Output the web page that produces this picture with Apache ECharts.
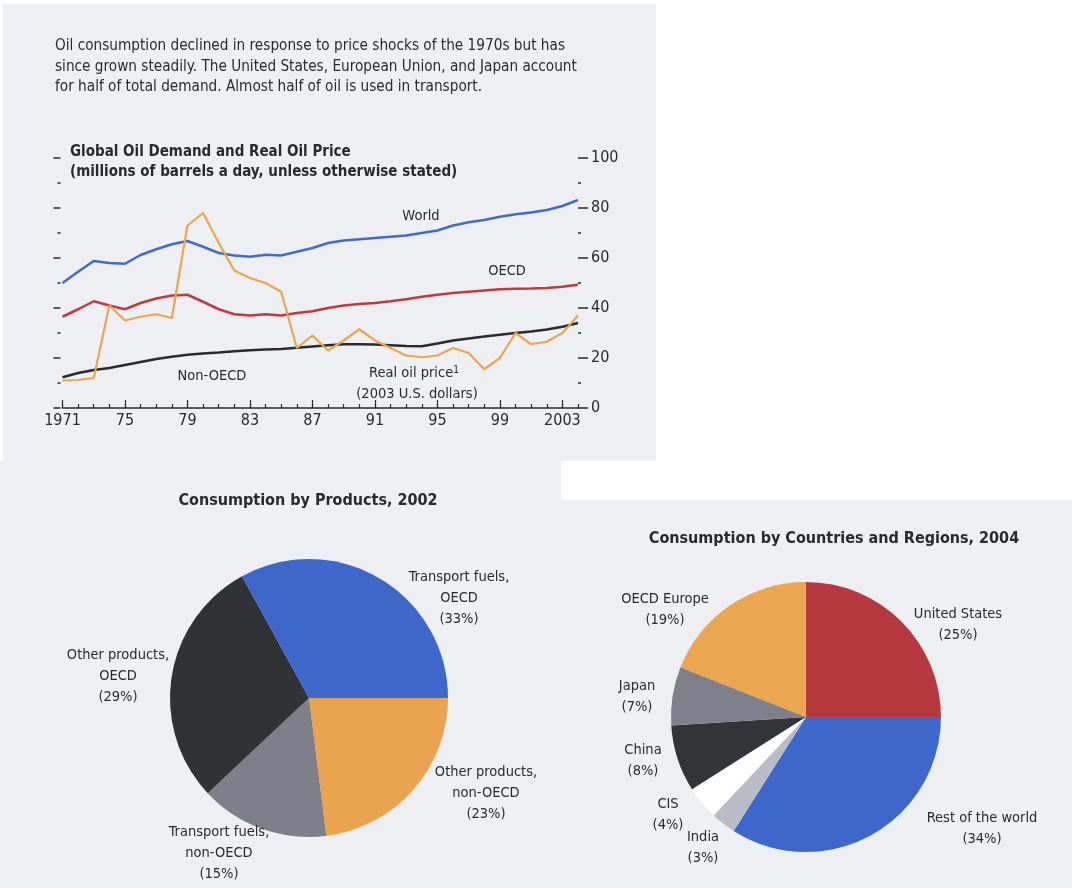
<!DOCTYPE html>
<html>
<head>
<meta charset="utf-8">
<script src="https://cdn.jsdelivr.net/npm/echarts@6/dist/echarts.min.js"></script>
<style>html,body{margin:0;padding:0;background:#fff}#c{width:1072px;height:888px}</style>
</head>
<body>
<div id="c"></div>
<script>
// ---------- DATA ----------
const years = ['1971','1972','1973','1974','1975','1976','1977','1978','1979','1980','1981','1982','1983','1984','1985','1986','1987','1988','1989','1990','1991','1992','1993','1994','1995','1996','1997','1998','1999','2000','2001','2002','2003','2004'];
const xTickLabels = ['1971','75','79','83','87','91','95','99','2003'];
const world    = [50,54.5,58.8,58,57.7,61.2,63.5,65.5,66.8,64.5,62,61,60.5,61.3,61,62.5,64,66,67,67.5,68,68.5,69,70,71,73,74.3,75.2,76.5,77.5,78.2,79.2,80.8,83.2];
const oecd     = [36.5,39.5,42.7,41,39.5,42,43.8,45,45.3,42.5,39.5,37.5,37,37.5,37,38,38.7,40,41,41.6,42,42.7,43.5,44.5,45.3,46,46.5,47,47.5,47.7,47.8,48,48.5,49.3];
const nonOecd  = [12.3,14,15.2,16,17.2,18.4,19.6,20.5,21.3,21.8,22.2,22.7,23.1,23.4,23.6,24.1,24.6,25.1,25.5,25.5,25.4,25.1,24.8,24.7,25.8,27,27.8,28.6,29.3,30,30.6,31.4,32.5,34];
const oilPrice = [11,11.2,12,41,35,36.5,37.5,36,73,78,66,55,52,50,46.5,24,29,23,27,31.5,27,24,21,20.3,21,24,22,15.5,20,30,25.5,26.5,30,37];
const yTickLabels = ['0','20','40','60','80','100'];

const productNames  = ['Other products,\nnon-OECD','Transport fuels,\nnon-OECD','Other products,\nOECD','Transport fuels,\nOECD'];
const productValues = [23,15,29,33];
const regionNames  = ['United States','Rest of the world','India','CIS','China','Japan','OECD Europe'];
const regionValues = [25,34,3,4,8,7,19];

// ---------- STYLE ----------
const FF = '"Liberation Sans Narrow","Arial Narrow","DejaVu Sans Condensed",sans-serif';
const TXT = '#2a2a2e';
const productColors = ['#eaa44f','#7d8089','#313236','#3d67cb'];
const regionColors  = ['#b5393e','#3d67cb','#b9bcc4','#ffffff','#333438','#7e8189','#eba650'];
const productLabelPos = [[486,793],[219,853],[118,676],[459,598]];
const regionLabelPos  = [[958,625],[982,829],[703,848],[668,815],[643,761],[637,697],[665,610]];

const chart = echarts.init(document.getElementById('c'), null, {renderer:'canvas'});

function txt(x, y, text, opts) {
  return {type:'text', x:x, y:y, z:50, style:Object.assign({text:text, fill:TXT, font:'15px ' + FF, verticalAlign:'middle'}, opts||{})};
}

const option = {
  backgroundColor:'#ffffff',
  animation:false,
  textStyle:{fontFamily:FF},
  title:[
    {text:'Consumption by Products, 2002', left:303, top:488, textAlign:'center',
     textStyle:{fontFamily:FF, fontWeight:'bold', fontSize:16, color:TXT}},
    {text:'Consumption by Countries and Regions, 2004', left:829, top:526, textAlign:'center',
     textStyle:{fontFamily:FF, fontWeight:'bold', fontSize:16, color:TXT}}
  ],
  graphic:[
    {type:'rect', z:-100, shape:{x:3,y:4,width:653,height:457}, style:{fill:'#eeeff2'}},
    {type:'rect', z:-100, shape:{x:0,y:461,width:561,height:427}, style:{fill:'#eeeff2'}},
    {type:'rect', z:-100, shape:{x:561,y:500,width:511,height:388}, style:{fill:'#eeeff2'}},
    {type:'text', x:55, y:36, z:50, style:{text:'Oil consumption declined in response to price shocks of the 1970s but has\nsince grown steadily. The United States, European Union, and Japan account\nfor half of total demand. Almost half of oil is used in transport.', fill:TXT, font:'15.2px '+FF, lineHeight:20.5, verticalAlign:'top'}},
    txt(70, 152, 'Global Oil Demand and Real Oil Price', {font:'bold 15px '+FF}),
    txt(70, 172, '(millions of barrels a day, unless otherwise stated)', {font:'bold 15px '+FF}),
    txt(421, 216, 'World', {align:'center', font:'14.5px '+FF}),
    txt(507, 271, 'OECD', {align:'center', font:'14.5px '+FF}),
    txt(212, 376, 'Non-OECD', {align:'center', font:'14.5px '+FF}),
    {type:'text', x:414, y:373, z:50, style:{text:'Real oil price{s|1}', align:'center', verticalAlign:'middle', fill:TXT, font:'14.5px '+FF, rich:{s:{fontSize:10, verticalAlign:'top', padding:[0,0,6,0], fontFamily:FF, fill:TXT}}}},
    txt(417, 394, '(2003 U.S. dollars)', {align:'center', font:'14.5px '+FF})
  ],
  grid:{left:62.5, top:158, width:515.5, height:250, containLabel:false},
  xAxis:[
    {type:'category', data:years, boundaryGap:false,
     axisLine:{show:true, lineStyle:{color:'#2a2a2e', width:1.5}},
     axisTick:{show:true, inside:true, interval:0, length:4, lineStyle:{color:'#2a2a2e', width:1.2}},
     axisLabel:{interval:3, margin:5, color:TXT, fontSize:16, fontFamily:FF,
       formatter:function(v, i){ return xTickLabels[Math.round(i/4)]; }},
     splitLine:{show:false}},
    {type:'category', data:years, boundaryGap:false, position:'bottom',
     axisLine:{show:false},
     axisTick:{show:true, inside:true, interval:3, length:8, lineStyle:{color:'#2a2a2e', width:1.2}},
     axisLabel:{show:false}, splitLine:{show:false}}
  ],
  yAxis:[
    {type:'value', position:'left', min:0, max:100, interval:20, offset:2,
     axisLine:{show:false}, axisLabel:{show:false},
     axisTick:{show:true, length:7, lineStyle:{color:'#2a2a2e', width:1.5}},
     minorTick:{show:true, splitNumber:2, length:3, lineStyle:{color:'#2a2a2e', width:1.5}},
     splitLine:{show:false}},
    {type:'value', position:'right', min:0, max:100, interval:20, offset:0,
     axisLine:{show:false},
     axisTick:{show:true, length:10, lineStyle:{color:'#2a2a2e', width:1.5}},
     minorTick:{show:true, splitNumber:2, length:3, lineStyle:{color:'#2a2a2e', width:1.5}},
     axisLabel:{color:TXT, fontSize:16, fontFamily:FF, margin:13,
       formatter:function(v){ return yTickLabels[v/20]; }},
     splitLine:{show:false}}
  ],
  series:[
    {name:'World', type:'line', data:world, yAxisIndex:1, symbol:'none', lineStyle:{color:'#3f6ad0', width:2.5}, z:3},
    {name:'OECD', type:'line', data:oecd, yAxisIndex:1, symbol:'none', lineStyle:{color:'#c0393f', width:2.5}, z:3},
    {name:'Non-OECD', type:'line', data:nonOecd, yAxisIndex:1, symbol:'none', lineStyle:{color:'#2a2a2e', width:2.5}, z:3},
    {name:'Real oil price', type:'line', data:oilPrice, yAxisIndex:1, symbol:'none', lineStyle:{color:'#e9a64f', width:2.2}, z:4},
    {name:'Products', type:'pie', center:[309,698], radius:139, startAngle:0, clockwise:true,
     avoidLabelOverlap:false,
     data:productNames.map(function(n,i){ return {name:n, value:productValues[i], itemStyle:{color:productColors[i]}}; }),
     label:{show:true, position:'outside', formatter:function(p){ return p.name + '\n(' + p.value + '%)'; },
       color:TXT, fontSize:14.5, lineHeight:21, fontFamily:FF, align:'center'},
     labelLine:{show:false},
     labelLayout:function(p){ const q = productLabelPos[p.dataIndex]; return {x:q[0], y:q[1], align:'center', verticalAlign:'middle'}; },
     emphasis:{disabled:true}},
    {name:'Regions', type:'pie', center:[806,717], radius:135, startAngle:90, clockwise:true,
     avoidLabelOverlap:false,
     data:regionNames.map(function(n,i){ return {name:n, value:regionValues[i], itemStyle:{color:regionColors[i]}}; }),
     label:{show:true, position:'outside', formatter:function(p){ return p.name + '\n(' + p.value + '%)'; },
       color:TXT, fontSize:14.5, lineHeight:21, fontFamily:FF, align:'center'},
     labelLine:{show:false},
     labelLayout:function(p){ const q = regionLabelPos[p.dataIndex]; return {x:q[0], y:q[1], align:'center', verticalAlign:'middle'}; },
     emphasis:{disabled:true}}
  ]
};
chart.setOption(option);
</script>
</body>
</html>
